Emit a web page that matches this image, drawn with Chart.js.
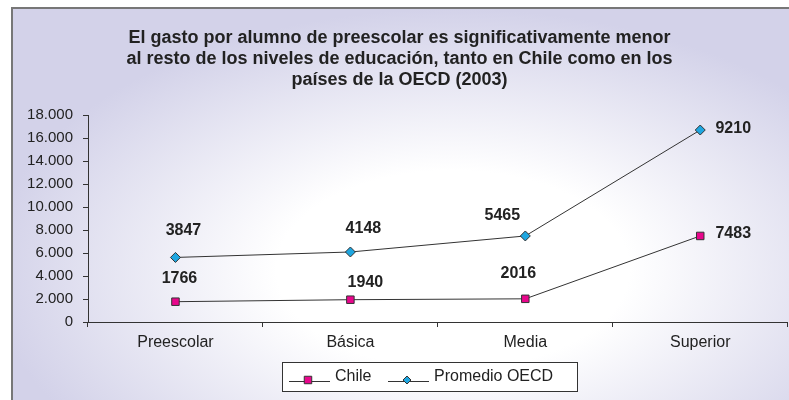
<meta charset="utf-8">
<script src="https://cdn.jsdelivr.net/npm/chart.js@4.4.0/dist/chart.umd.min.js"></script>
<style>
  body { margin: 0; background: #fff; overflow: hidden; }
  #frame {
    position: absolute; left: 11px; top: 7px; width: 800px; height: 420px;
    border-left: 2px solid #777; border-top: 2px solid #777;
    background: radial-gradient(ellipse 58% 62% at 55% 62%, #ffffff 38%, #d3d2e9 100%);
  }
  #c { position: absolute; left: 0; top: 0; }
</style>

<div id="frame"></div>
<canvas id="c" width="794" height="400"></canvas>

<script>
// values
const niveles = ['Preescolar', 'Básica', 'Media', 'Superior'];
const chile = [1766, 1940, 2016, 7483];
const oecd = [3847, 4148, 5465, 9210];
const yTicksMax = 18000;
const tituloLineas = [
  'El gasto por alumno de preescolar es significativamente menor',
  'al resto de los niveles de educación, tanto en Chile como en los',
  'países de la OECD (2003)'
];

const FONT = '"Liberation Sans", Arial, sans-serif';

// label nudges like the excel original (dx, dy from the point)
const labelShift = [
  [[4, -23], [15, -17], [-7, -25], [33, -2]],
  [[8, -27], [13, -23], [-23, -20], [33, -1]]
];

const dataLabels = {
  id: 'dataLabels',
  afterDatasetsDraw(chart) {
    const ctx = chart.ctx;
    ctx.save();
    ctx.font = 'bold 16px ' + FONT;
    ctx.fillStyle = '#222';
    ctx.textAlign = 'center';
    ctx.textBaseline = 'middle';
    chart.data.datasets.forEach((ds, i) => {
      chart.getDatasetMeta(i).data.forEach((pt, j) => {
        const s = labelShift[i][j];
        ctx.fillText(String(ds.data[j]), pt.x + s[0], pt.y + s[1]);
      });
    });
    ctx.restore();
  }
};

// boxed legend: line with marker in the middle, like excel
const boxLegend = {
  id: 'boxLegend',
  afterDraw(chart) {
    const ctx = chart.ctx;
    ctx.save();
    ctx.fillStyle = '#fff';
    ctx.strokeStyle = '#333';
    ctx.lineWidth = 1;
    ctx.fillRect(282.5, 362.5, 295, 29);
    ctx.strokeRect(282.5, 362.5, 295, 29);

    ctx.font = '16px ' + FONT;
    ctx.textBaseline = 'middle';
    ctx.textAlign = 'left';
    const items = [
      { x: 289, text: 'Chile', ds: chart.data.datasets[0] },
      { x: 388, text: 'Promedio OECD', ds: chart.data.datasets[1] }
    ];
    items.forEach(it => {
      ctx.strokeStyle = '#333';
      ctx.beginPath();
      ctx.moveTo(it.x, 381.5);
      ctx.lineTo(it.x + 41, 381.5);
      ctx.stroke();
      ctx.fillStyle = it.ds.pointBackgroundColor;
      ctx.strokeStyle = '#333';
      Chart.helpers.drawPoint(ctx, {
        pointStyle: it.ds.pointStyle,
        radius: it.ds.pointStyle === 'rect' ? 5.3 : 4,
        borderWidth: 1
      }, it.x + 19, 380);
      ctx.fillStyle = '#222';
      ctx.fillText(it.text, it.x + 46, 377);
    });
    ctx.restore();
  }
};

new Chart(document.getElementById('c'), {
  type: 'line',
  data: {
    labels: niveles,
    datasets: [
      {
        label: 'Chile',
        data: chile,
        borderColor: '#333',
        borderWidth: 1,
        pointStyle: 'rect',
        pointRadius: 5.3,
        pointBackgroundColor: '#e8068c',
        pointBorderColor: '#333',
        pointBorderWidth: 1,
        fill: false,
        tension: 0
      },
      {
        label: 'Promedio OECD',
        data: oecd,
        borderColor: '#333',
        borderWidth: 1,
        pointStyle: 'rectRot',
        pointRadius: 5,
        pointBackgroundColor: '#1ea6e0',
        pointBorderColor: '#333',
        pointBorderWidth: 1,
        fill: false,
        tension: 0
      }
    ]
  },
  options: {
    responsive: false,
    animation: false,
    devicePixelRatio: 1,
    layout: { padding: { left: 5, right: 0, top: 0, bottom: 48 } },
    plugins: {
      legend: { display: false },
      tooltip: { enabled: false },
      title: {
        display: true,
        text: tituloLineas,
        color: '#222',
        font: { family: FONT, size: 18, weight: 'bold', lineHeight: '21px' },
        padding: { top: 28, bottom: 24 }
      }
    },
    scales: {
      x: {
        offset: true,
        grid: { offset: true, drawOnChartArea: false, drawTicks: true, tickLength: 5, color: '#333' },
        border: { display: true, color: '#333', width: 1 },
        ticks: { color: '#222', font: { family: FONT, size: 16 }, padding: 6, maxRotation: 0 },
        afterFit(s) { s.height = 30; }
      },
      y: {
        stacked: true,
        min: 0,
        max: yTicksMax,
        grid: { drawOnChartArea: false, drawTicks: true, tickLength: 5, color: '#333' },
        border: { display: true, color: '#333', width: 1 },
        ticks: {
          stepSize: 2000,
          color: '#222',
          padding: 10,
          font: { family: FONT, size: 15 },
          callback: v => String(v).replace(/\B(?=(\d{3})+(?!\d))/g, '.')
        },
        afterFit(s) { s.width = 83; }
      }
    }
  },
  plugins: [dataLabels, boxLegend]
});
</script>
